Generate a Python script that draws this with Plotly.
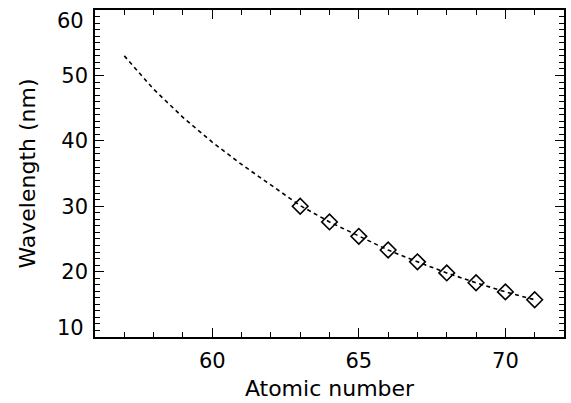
import plotly.graph_objects as go

# Curve (dashed line) values
curve_z = [57, 58, 59, 60, 61, 62, 63, 64, 65, 66, 67, 68, 69, 70, 71]
curve_wl = [53.0, 47.9, 43.6, 39.8, 36.4, 33.2, 30.1, 27.6, 25.4, 23.3, 21.5, 19.8, 18.3, 16.9, 15.7]

# Measured points (diamonds)
point_z = [63, 64, 65, 66, 67, 68, 69, 70, 71]
point_wl = [30.0, 27.6, 25.4, 23.3, 21.5, 19.8, 18.3, 16.9, 15.7]

x_ticks = [60, 65, 70]
y_ticks = [10, 20, 30, 40, 50, 60]
x_range = [56, 72]
y_range = [10, 60.02]

FONT = "DejaVu Sans"
TICK_SIZE = 21

fig = go.Figure()
fig.add_trace(go.Scatter(
    x=curve_z, y=curve_wl, mode="lines",
    line=dict(color="black", width=1.6, dash="4px,3.5px"),
    showlegend=False, hoverinfo="skip",
))
fig.add_trace(go.Scatter(
    x=point_z, y=point_wl, mode="markers",
    marker=dict(symbol="diamond-open", size=12, color="black",
                line=dict(color="black", width=1.6)),
    showlegend=False,
))

def axis_common(minor_tick0):
    return dict(
        showgrid=False, zeroline=False, showline=True, linecolor="black",
        linewidth=1.6, ticks="inside", tickcolor="black",
        tickwidth=1.3, ticklen=9, automargin=False,
        ticklabeloverflow="allow",
        minor=dict(dtick=1, tick0=minor_tick0, ticks="inside", ticklen=5,
                   tickcolor="black", tickwidth=1.3),
        tickfont=dict(family=FONT, size=TICK_SIZE, color="black"),
    )

# end labels of the y axis sit slightly inside the frame (as in the reference)
y_end = {y_ticks[0]: 9, y_ticks[-1]: -11}
y_ticktext = ["" if v in y_end else str(v) for v in y_ticks]

fig.update_layout(
    width=571, height=403,
    margin=dict(l=95, r=7, t=10, b=66),
    paper_bgcolor="white", plot_bgcolor="white",
    xaxis=dict(
        range=x_range, tickvals=x_ticks, ticktext=[str(v) for v in x_ticks],
        title=dict(text="Atomic number", font=dict(family=FONT, size=22, color="black"), standoff=9),
        ticklabelstandoff=4,
        **axis_common(56),
    ),
    yaxis=dict(
        range=y_range, tickvals=y_ticks, ticktext=y_ticktext,
        title=dict(text="Wavelength (nm)", font=dict(family=FONT, size=22, color="black"), standoff=20),
        ticklabelstandoff=1,
        **axis_common(10),
    ),
    xaxis2=dict(
        overlaying="x", side="top", matches="x", range=x_range,
        tickvals=x_ticks, showticklabels=False,
        **axis_common(56),
    ),
    yaxis2=dict(
        overlaying="y", side="right", matches="y", range=y_range,
        tickvals=y_ticks, showticklabels=False,
        **axis_common(10),
    ),
)

for v, shift in y_end.items():
    fig.add_annotation(
        x=0, xref="paper", y=v, yref="y", text=str(v), showarrow=False,
        xanchor="right", yanchor="middle", xshift=-9, yshift=shift,
        font=dict(family=FONT, size=TICK_SIZE, color="black"),
    )

# invisible trace to activate the mirrored top/right axes
fig.add_trace(go.Scatter(x=[x_range[0]], y=[y_range[0]], xaxis="x2", yaxis="y2",
                         mode="markers", marker=dict(opacity=0), showlegend=False,
                         hoverinfo="skip"))

fig.write_html("out.html", config={"displayModeBar": False},
               post_script="document.body.style.margin='0px';")
